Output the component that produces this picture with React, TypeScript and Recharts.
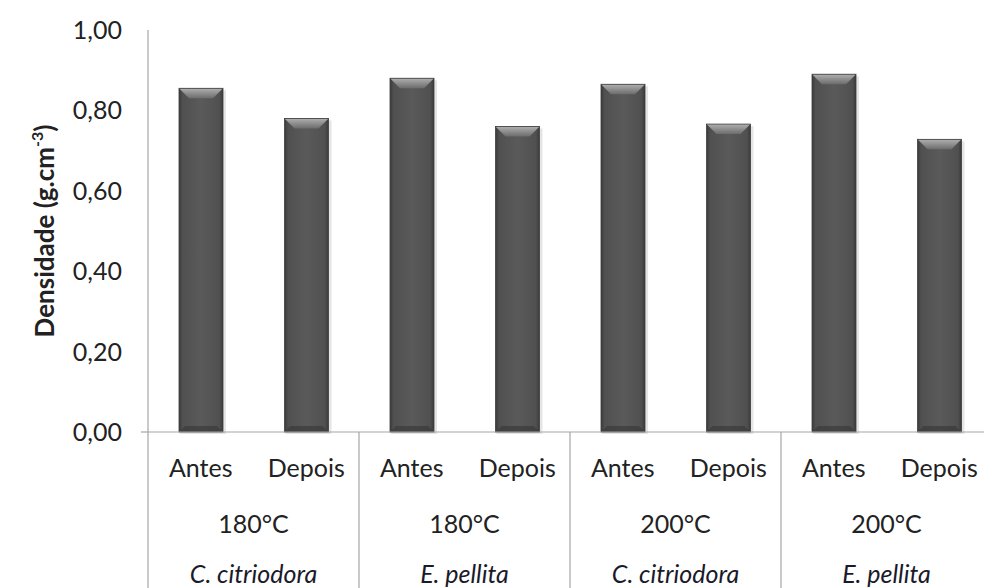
import React from 'react';
import { BarChart, Bar, XAxis, YAxis } from 'recharts';

const tratamentos = ['Antes', 'Depois', 'Antes', 'Depois', 'Antes', 'Depois', 'Antes', 'Depois'];
const temperaturas = ['180°C', '180°C', '200°C', '200°C'];
const especies = ['C. citriodora', 'E. pellita', 'C. citriodora', 'E. pellita'];
const densidade = [0.855, 0.78, 0.88, 0.76, 0.865, 0.766, 0.89, 0.728];
const yTicks = [0, 0.2, 0.4, 0.6, 0.8, 1.0];

const data = tratamentos.map((t, i) => ({
  trat: t,
  temp: temperaturas[Math.floor(i / 2)],
  especie: especies[Math.floor(i / 2)],
  densidade: densidade[i],
}));

const CHART_W = 992;
const CHART_H = 588;
const YAXIS_W = 148;
const XAXIS_H = 156;
const TOP = 30;
const PLOT_BOTTOM = CHART_H - XAXIS_H;
const BAND = (CHART_W - YAXIS_W) / data.length;
const FONT = 'Lato, "Open Sans", sans-serif';
const AXIS_GRAY = '#a6a6a6';

const fmt = (v: number) => v.toFixed(2).replace('.', ',');

function BevelBar(props: any) {
  const { x, y, width, height } = props;
  if (!height || height <= 0) return null;
  const b = 10;
  const bot = y + height;
  return (
    <g>
      <rect x={x + 1} y={y + 2} width={width + 2} height={height} fill="#000" opacity={0.1} />
      <rect x={x} y={y} width={width} height={height} fill="url(#barBody)" />
      <polygon
        points={`${x},${y} ${x + width},${y} ${x + width - b},${y + b} ${x + b},${y + b}`}
        fill="url(#barTop)"
      />
      <polygon
        points={`${x},${bot} ${x + width},${bot} ${x + width - 6},${bot - 6} ${x + 6},${bot - 6}`}
        fill="#3a3a3a"
        opacity={0.7}
      />
      <rect x={x} y={y} width={width} height={height} fill="none" stroke="#3c3c3c" strokeWidth={0.8} />
    </g>
  );
}

function YTick(props: any) {
  const { y, payload } = props;
  return (
    <g>
      <text x={YAXIS_W - 26} y={y} dy={9} textAnchor="end" fontSize={25} fontFamily={FONT} fill="#222">
        {fmt(payload.value)}
      </text>
      {payload.value === 0 && (
        <line x1={YAXIS_W - 7} x2={YAXIS_W} y1={y} y2={y} stroke={AXIS_GRAY} strokeWidth={1.2} />
      )}
    </g>
  );
}

function XTick(props: any) {
  const { x, payload } = props;
  const i = payload.index;
  const row = data[i];
  return (
    <g fontFamily={FONT} fontSize={25} fill="#222">
      <text x={x} y={PLOT_BOTTOM + 45} textAnchor="middle" fill="#222">
        {payload.value}
      </text>
      {i % 2 === 1 && (
        <>
          <text x={x - BAND / 2} y={PLOT_BOTTOM + 101} textAnchor="middle" fill="#222">
            {row.temp}
          </text>
          <text x={x - BAND / 2} y={PLOT_BOTTOM + 151} textAnchor="middle" fontStyle="italic" fill="#1a1a2a">
            {row.especie}
          </text>
        </>
      )}
      {i % 2 === 0 && (
        <line x1={x - BAND / 2} x2={x - BAND / 2} y1={PLOT_BOTTOM} y2={CHART_H} stroke={AXIS_GRAY} strokeWidth={1.2} />
      )}
    </g>
  );
}

function YLabel(props: any) {
  const { viewBox } = props;
  const cx = 54;
  const cy = viewBox.y + viewBox.height / 2;
  return (
    <text
      x={cx}
      y={cy}
      transform={`rotate(-90, ${cx}, ${cy})`}
      textAnchor="middle"
      fontSize={26}
      fontWeight="bold"
      fontFamily={FONT}
      fill="#222"
    >
      Densidade (g.cm
      <tspan fontSize={16} dy={-11}>-3</tspan>
      <tspan dy={11}>)</tspan>
    </text>
  );
}

export default function App() {
  return (
    <div style={{ position: 'absolute', left: 0, top: 0, width: 984, height: 588, overflow: 'hidden', background: '#fff' }}>
      <BarChart width={CHART_W} height={CHART_H} data={data} margin={{ top: TOP, right: 0, bottom: 0, left: 0 }}>
        <defs>
          <linearGradient id="barBody" x1="0" y1="0" x2="1" y2="0">
            <stop offset="0%" stopColor="#3a3a3a" />
            <stop offset="8%" stopColor="#505050" />
            <stop offset="50%" stopColor="#5a5a5a" />
            <stop offset="92%" stopColor="#505050" />
            <stop offset="100%" stopColor="#3a3a3a" />
          </linearGradient>
          <linearGradient id="barTop" x1="0" y1="0" x2="0" y2="1">
            <stop offset="0%" stopColor="#b0b0b0" />
            <stop offset="100%" stopColor="#6c6c6c" />
          </linearGradient>
        </defs>
        <XAxis
          dataKey="trat"
          height={XAXIS_H}
          tick={<XTick />}
          tickLine={false}
          axisLine={{ stroke: AXIS_GRAY, strokeWidth: 1.2 }}
          interval={0}
        />
        <YAxis
          width={YAXIS_W}
          domain={[0, 1]}
          ticks={yTicks}
          tick={<YTick />}
          tickLine={false}
          axisLine={{ stroke: AXIS_GRAY, strokeWidth: 1.2 }}
          label={<YLabel />}
        />
        <Bar dataKey="densidade" barSize={44} shape={<BevelBar />} isAnimationActive={false} />
      </BarChart>
    </div>
  );
}
